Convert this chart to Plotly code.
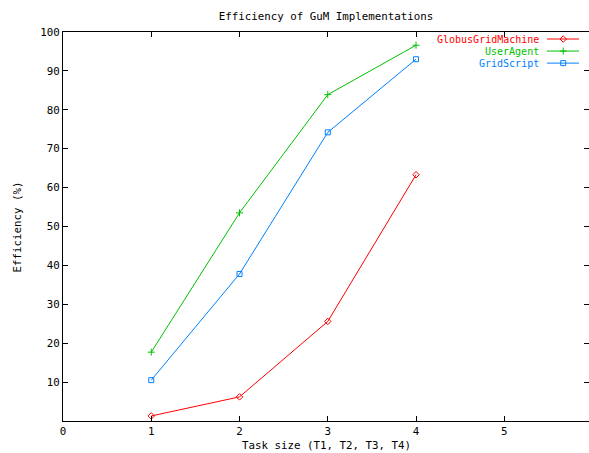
import plotly.graph_objects as go

task_sizes = [1, 2, 3, 4]
globus = [1.3, 6.2, 25.6, 63.3]
useragent = [17.7, 53.5, 83.9, 96.6]
gridscript = [10.5, 37.8, 74.2, 93.0]

series_names = ["GlobusGridMachine", "UserAgent", "GridScript"]
series_values = [globus, useragent, gridscript]
colors = ["#ff0000", "#00c000", "#0080ff"]
symbols = ["diamond-open", "cross-thin", "square-open"]

x_ticks = [0, 1, 2, 3, 4, 5]
y_ticks = [10, 20, 30, 40, 50, 60, 70, 80, 90, 100]

FONT = "DejaVu Sans Mono"
FS = 10.8

fig = go.Figure()
for name, vals, c, s in zip(series_names, series_values, colors, symbols):
    fig.add_trace(go.Scatter(
        x=task_sizes, y=vals, mode="lines+markers", name=name,
        line=dict(color=c, width=1),
        marker=dict(symbol=s, size=5, color=c, line=dict(color=c, width=1)),
        showlegend=False,
    ))

# manual gnuplot-style legend (text right aligned, sample to the right)
leg_y = [0.982, 0.951, 0.920]
for name, c, s, ly in zip(series_names, colors, symbols, leg_y):
    fig.add_trace(go.Scatter(
        x=[0.920, 0.981], y=[ly, ly], xaxis="x2", yaxis="y2",
        mode="lines", line=dict(color=c, width=1), showlegend=False, hoverinfo="skip"))
    fig.add_trace(go.Scatter(
        x=[0.951], y=[ly], xaxis="x2", yaxis="y2",
        mode="markers", marker=dict(symbol=s, size=5, color=c, line=dict(color=c, width=1)),
        showlegend=False, hoverinfo="skip"))
    fig.add_annotation(x=0.907, y=ly, xref="x2", yref="y2", text=name, showarrow=False,
                       xanchor="right", yanchor="middle", borderpad=0,
                       font=dict(family=FONT, size=10, color=c))

axis_common = dict(showgrid=False, zeroline=False, showline=True, linecolor="black",
                   linewidth=1, mirror="allticks", ticks="inside", ticklen=5,
                   tickcolor="black", automargin=False,
                   tickfont=dict(family=FONT, size=FS, color="black"))

fig.add_annotation(x=0.5, y=-0.064, xref="paper", yref="paper", yanchor="middle",
                   text="Task size (T1, T2, T3, T4)", showarrow=False,
                   font=dict(family=FONT, size=FS, color="black"))
fig.add_annotation(x=-0.0856, y=0.5, xref="paper", yref="paper", xanchor="center",
                   text="Efficiency (%)", showarrow=False, textangle=-90,
                   font=dict(family=FONT, size=FS, color="black"))

fig.update_layout(
    width=589, height=453,
    margin=dict(l=63, r=0, t=32, b=32),
    paper_bgcolor="white", plot_bgcolor="white",
    title=dict(text="Efficiency of GuM Implementations", xref="paper", x=0.5, xanchor="center",
               y=0.965, yanchor="middle", font=dict(family=FONT, size=FS, color="black")),
    xaxis=dict(range=[0, 5.96], tickvals=x_ticks, **axis_common),
    yaxis=dict(range=[0, 100], tickvals=y_ticks, **axis_common),
    xaxis2=dict(range=[0, 1], overlaying="x", visible=False, fixedrange=True),
    yaxis2=dict(range=[0, 1], overlaying="y", visible=False, fixedrange=True),
    showlegend=False,
)

fig.write_html("out.html", config={"displayModeBar": False},
               post_script="document.body.style.margin='0';document.body.style.overflow='hidden';")
